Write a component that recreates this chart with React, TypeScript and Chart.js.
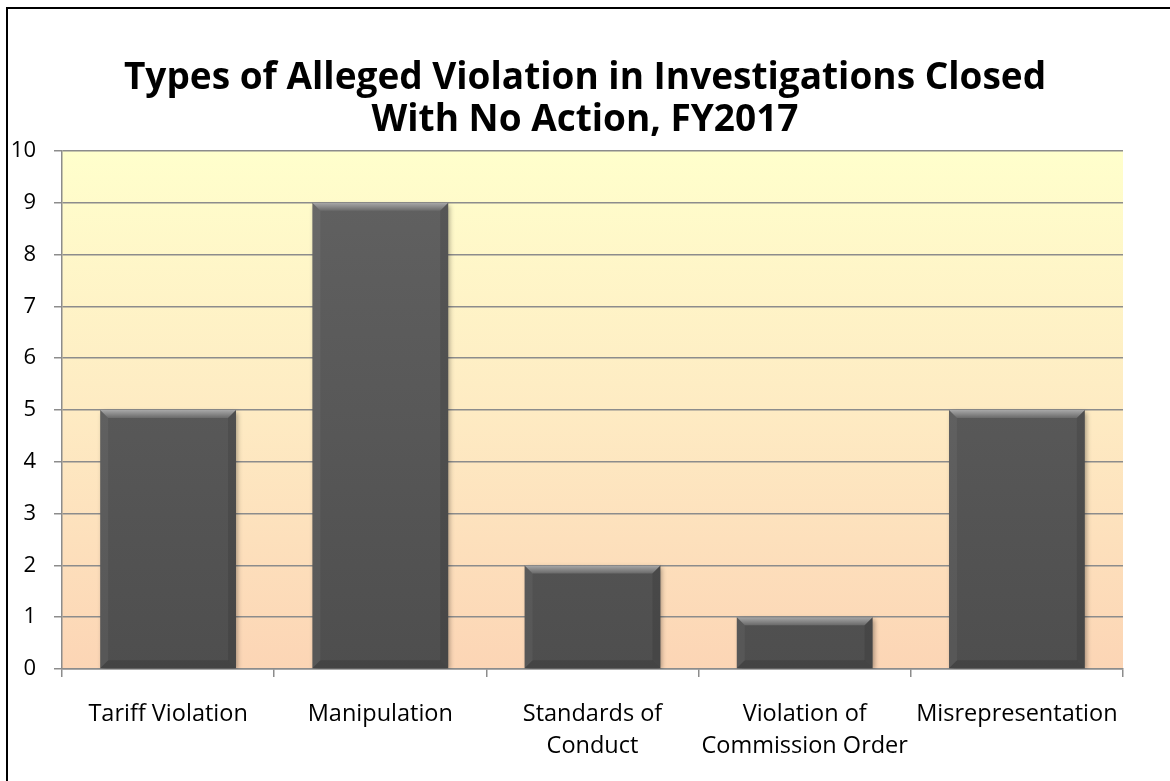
import React, { useEffect, useRef } from "react";
import { Chart, registerables } from "chart.js";

Chart.register(...registerables);

const categories: (string | string[])[] = [
  "Tariff Violation",
  "Manipulation",
  ["Standards of", "Conduct"],
  ["Violation of", "Commission Order"],
  "Misrepresentation",
];
const counts: number[] = [5, 9, 2, 1, 5];
const titleLines: string[] = [
  "Types of Alleged Violation in Investigations Closed",
  "With No Action, FY2017",
];
const yMin = 0;
const yMax = 10;
const yStep = 1;

const plotBackground = {
  id: "plotBackground",
  beforeDraw(chart: any) {
    const { ctx, chartArea } = chart;
    if (!chartArea) return;
    const g = ctx.createLinearGradient(0, chartArea.top, 0, chartArea.bottom);
    g.addColorStop(0, "#FFFFCC");
    g.addColorStop(0.5, "#FEEBC3");
    g.addColorStop(1, "#FCD5B5");
    ctx.save();
    ctx.fillStyle = g;
    ctx.fillRect(chartArea.left, chartArea.top, chartArea.right - chartArea.left, chartArea.bottom - chartArea.top);
    ctx.restore();
  },
};

const barBevel = {
  id: "barBevel",
  beforeDatasetsDraw(chart: any) {
    const ctx = chart.ctx;
    ctx.save();
    ctx.shadowColor = "rgba(0,0,0,0.35)";
    ctx.shadowBlur = 5;
    ctx.shadowOffsetX = 2;
    ctx.shadowOffsetY = 2;
  },
  afterDatasetsDraw(chart: any) {
    const ctx = chart.ctx;
    ctx.restore();
    const meta = chart.getDatasetMeta(0);
    meta.data.forEach((bar: any) => {
      const { x, y, base, width } = bar.getProps(["x", "y", "base", "width"], true);
      const l = x - width / 2;
      const r = x + width / 2;
      const t = y;
      const b = base;
      const s = 8;
      ctx.save();
      const g = ctx.createLinearGradient(0, t, 0, t + s);
      g.addColorStop(0, "#a8a8a8");
      g.addColorStop(1, "#6a6a6a");
      ctx.fillStyle = g;
      ctx.beginPath();
      ctx.moveTo(l, t);
      ctx.lineTo(r, t);
      ctx.lineTo(r - s, t + s);
      ctx.lineTo(l + s, t + s);
      ctx.closePath();
      ctx.fill();
      ctx.fillStyle = "rgba(255,255,255,0.05)";
      ctx.beginPath();
      ctx.moveTo(l, t);
      ctx.lineTo(l + s, t + s);
      ctx.lineTo(l + s, b - s);
      ctx.lineTo(l, b);
      ctx.closePath();
      ctx.fill();
      ctx.fillStyle = "rgba(0,0,0,0.1)";
      ctx.beginPath();
      ctx.moveTo(r, t);
      ctx.lineTo(r - s, t + s);
      ctx.lineTo(r - s, b - s);
      ctx.lineTo(r, b);
      ctx.closePath();
      ctx.fill();
      ctx.fillStyle = "rgba(0,0,0,0.12)";
      ctx.beginPath();
      ctx.moveTo(l, b);
      ctx.lineTo(l + s, b - s);
      ctx.lineTo(r - s, b - s);
      ctx.lineTo(r, b);
      ctx.closePath();
      ctx.fill();
      ctx.restore();
    });
  },
};

export default function App() {
  const ref = useRef<HTMLCanvasElement | null>(null);

  useEffect(() => {
    const canvas = ref.current;
    if (!canvas) return;
    const gridColor = "#8c8c8c";
    const chart = new Chart(canvas, {
      type: "bar",
      data: {
        labels: categories as any,
        datasets: [
          {
            data: counts,
            backgroundColor: (c: any) => {
              const area = c.chart.chartArea;
              if (!area) return "#575757";
              const g = c.chart.ctx.createLinearGradient(0, area.top, 0, area.bottom);
              g.addColorStop(0, "#626262");
              g.addColorStop(1, "#4e4e4e");
              return g;
            },
            borderWidth: 0,
            categoryPercentage: 1,
            barPercentage: 0.64,
          },
        ],
      },
      options: {
        animation: false,
        responsive: false,
        maintainAspectRatio: false,
        layout: { padding: 0 },
        plugins: {
          legend: { display: false },
          tooltip: { enabled: false },
          title: {
            display: true,
            text: titleLines,
            color: "#000000",
            font: { family: "Open Sans", size: 37, weight: "bold", lineHeight: 1.135 },
            padding: { top: 57, bottom: 10 },
          },
        },
        scales: {
          x: {
            offset: true,
            grid: {
              offset: true,
              drawOnChartArea: false,
              drawTicks: true,
              tickLength: 8,
              color: gridColor,
              tickColor: gridColor,
              lineWidth: 1.5,
            },
            border: { display: true, color: gridColor, width: 1.5 },
            ticks: {
              color: "#000000",
              font: { family: "Open Sans", size: 23.5, lineHeight: 1.36 },
              padding: 21,
              maxRotation: 0,
              autoSkip: false,
            },
            afterFit: (s: any) => {
              s.height = 112;
            },
          },
          y: {
            min: yMin,
            max: yMax,
            grid: {
              color: gridColor,
              tickColor: gridColor,
              tickLength: 8,
              lineWidth: 1.5,
            },
            border: { display: true, color: gridColor, width: 1.5 },
            ticks: {
              stepSize: yStep,
              color: "#000000",
              font: { family: "Open Sans", size: 22 },
              padding: 18,
            },
            afterFit: (s: any) => {
              s.width = 62;
            },
          },
          yRight: {
            position: "right",
            display: true,
            min: yMin,
            max: yMax,
            grid: { display: false, drawTicks: false },
            border: { display: false },
            ticks: { display: false },
            afterFit: (s: any) => {
              s.width = 47;
            },
          },
        },
      },
      plugins: [plotBackground, barBevel],
    });
    return () => chart.destroy();
  }, []);

  return (
    <div style={{ position: "fixed", left: 0, top: 0, width: 1170, height: 781, background: "#ffffff" }}>
      <canvas ref={ref} width={1170} height={781} style={{ position: "absolute", left: 0, top: 0, width: 1170, height: 781 }} />
      <div
        style={{
          position: "absolute",
          left: 6,
          top: 7,
          width: 1164,
          height: 774,
          borderTop: "2px solid #000",
          borderLeft: "2px solid #000",
          boxSizing: "border-box",
          pointerEvents: "none",
        }}
      />
    </div>
  );
}
